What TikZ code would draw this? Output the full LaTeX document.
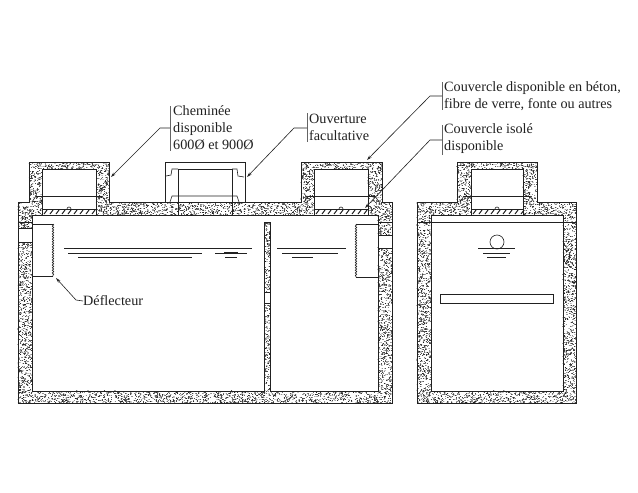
\documentclass[tikz,border=0pt]{standalone}
\usepackage{fontspec}
\setmainfont{Liberation Serif}
\usetikzlibrary{arrows.meta,decorations.pathmorphing}
\definecolor{ink}{gray}{0.13}
\tikzset{
  wall/.style={draw=ink,line width=0.8pt,line join=miter},
  thin line/.style={draw=ink,line width=0.6pt},
  water/.style={draw=ink,line width=0.7pt},
  leader/.style={draw=ink,line width=0.6pt},
  leaderarrow/.style={leader,-{Stealth[length=5pt,width=3pt]}},
  bracket/.style={draw=ink!70,line width=0.9pt},
  label/.style={font=\fontsize{14.2}{17}\selectfont,text=ink,align=left,anchor=west,inner sep=0pt},
  wavy/.style={draw=ink,line width=0.7pt,decorate,decoration={snake,amplitude=0.7pt,segment length=2.6pt}},
  dotset/.style={color=ink,line cap=round}
}
\newcommand{\dotpass}[6]{% x1 y1 x2 y2 density width
  \begin{scope}[dotset,line width=#6pt]
  \pgfmathtruncatemacro{\nn}{abs((#3-#1)*(#4-#2))*#5+1}%
  \foreach \i in {1,...,\nn}{%
    \pgfmathsetmacro{\xx}{#1+rnd*(#3-#1)}%
    \pgfmathsetmacro{\yy}{#2+rnd*(#4-#2)}%
    \pgfmathsetmacro{\xb}{\xx+0.05}%
    \pgfpathmoveto{\pgfpointxy{\xx}{\yy}}%
    \pgfpathlineto{\pgfpointxy{\xb}{\yy}}%
    \pgfusepath{stroke}%
  }%
  \end{scope}%
}
\newcommand{\conc}[4]{%
  \dotpass{#1}{#2}{#3}{#4}{0.22}{0.7}%
  \dotpass{#1}{#2}{#3}{#4}{0.12}{1.2}%
}
\newcommand{\chim}[4]{% outer left, inner left, inner right, outer right
  \conc{#1}{162.5}{#4}{169}\conc{#1}{169}{#2}{202}\conc{#3}{169}{#4}{202}%
  \draw[wall] (#2,215)--(#2,169)--(#3,169)--(#3,215);
  \draw[thin line] (#1+7,196)--(#4-7,196);
  \draw[thin line] (#1+3,202)--(#1+7,196) (#4-3,202)--(#4-7,196);
  \fill[white] (#2,209) rectangle (#3,215);
  \draw[draw=ink,line width=0.9pt] (#2,209) rectangle (#3,215);
  \foreach \h in {2,8,...,50}{\draw[ink,line width=1pt] (#2+\h,214)--(#2+\h+3,210);}
  \draw[thin line] ({(#2+#3)/2-2},209) arc[start angle=180,end angle=0,radius=2pt];
}
\begin{document}
\begin{tikzpicture}[x=1pt,y=-1pt]
\useasboundingbox (0,0) rectangle (638,493);
\fill[white] (0,0) rectangle (638,493);
\pgfmathsetseed{4242}
% ---- main tank concrete
\conc{18}{202}{42}{215}
\conc{96}{202}{314}{215}
\conc{368}{202}{392}{215}
\conc{18}{215}{32}{391}
\conc{378}{215}{392}{391}
\conc{18}{391}{392}{403}
\conc{264.5}{222}{270}{391}
\chim{29}{42}{96}{109}
\chim{301}{314}{368}{382}
\draw[wall] (18,202)--(29,202)--(29,162)--(109,162)--(109,202)--(301,202)--(301,162)--(382,162)--(382,202)--(392,202)--(392,403)--(18,403)--cycle;
\draw[wall] (42,215)--(32,215)--(32,391)--(264,391)--(264,222)--(270,222)--(270,391)--(378,391)--(378,215)--(368,215);
\draw[wall] (96,215)--(314,215);
% wall openings
\fill[white] (18.5,228) rectangle (31.5,242);
\draw[thin line] (18,228)--(32,228) (18,242)--(32,242) (18,222)--(32,222);
\fill[white] (378.5,235) rectangle (391.5,248);
\draw[thin line] (378,235)--(392,235) (378,248)--(392,248) (378,222)--(392,222);
\fill[white] (264.5,292) rectangle (269.5,303);
\draw[thin line] (264,292)--(270,292) (264,303)--(270,303);
% optional opening
\fill[white] (165,162) rectangle (245,202);
\draw[wall] (165,202)--(165,162)--(245,162)--(245,202);
\draw[thin line] (165,202)--(245,202);
\draw[thin line] (178,215)--(178,169)--(232,169)--(232,215);
\draw[thin line] (166,176)--(171,175)--(172,169)--(178,169);
\draw[thin line] (232,169)--(237,169)--(238,176)--(244,177);
\draw[thin line] (170,202)--(172,196)--(237,196)--(239,202);
% deflectors
\draw[thin line] (32,224)--(53,224) (32,276)--(53,276);
\draw[wavy] (53,224)--(53,276);
\draw[thin line] (378,224)--(356,224) (378,277)--(356,277);
\draw[wavy] (356,224)--(356,277);
% water lines
\draw[water] (64,248)--(252,248) (68,253)--(202,253) (78,257)--(192,257);
\draw[water] (215,253)--(247,253) (225,257)--(237,257);
\draw[ink,line width=1.4pt] (224,253)--(238,253);
\draw[water] (277,248)--(346,248) (282,253)--(338,253) (292,257)--(313,257);
% ---- side view
\conc{417}{202.5}{471}{215}
\conc{523}{202.5}{576}{215}
\conc{417}{215}{431}{391}
\conc{563}{215}{576}{391}
\conc{417}{391}{576}{403}
\chim{457}{471}{523}{537}
\draw[wall] (417,202)--(457,202)--(457,162)--(537,162)--(537,202)--(576,202)--(576,403)--(417,403)--cycle;
\draw[wall] (471,215)--(431,215)--(431,391)--(563,391)--(563,215)--(523,215);
\draw[thin line] (417,222)--(576,222);
\node[circle,draw=ink,line width=0.6pt,minimum size=14pt,inner sep=0pt] (ball) at (497,242) {};
\draw[water] (478,248)--(515,248) (483,253)--(510,253) (487,257)--(506,257);
\node[draw=ink,line width=0.9pt,minimum width=113pt,minimum height=9pt,inner sep=0pt] (bar) at (496.5,298.5) {};
% ---- labels
\node[label] (chem) at (173,128) {Cheminée\\disponible\\600Ø et 900Ø};
\node[label] (ouv) at (309,127) {Ouverture\\facultative};
\node[label] (couv) at (444,96.5) {Couvercle disponible en béton,\\fibre de verre, fonte ou autres};
\node[label] (iso) at (444,138.5) {Couvercle isolé\\disponible};
\node[label] (defl) at (83,301) {Déflecteur};
% ---- leaders
\coordinate (bc1) at (170,106); \coordinate (bc2) at (170,151); \coordinate (bc) at (170,128);
\coordinate (kc) at (160,128); \coordinate (tc) at (111,177);
\draw[bracket] (bc1)--(bc);\draw[bracket] (bc)--(bc2);
\draw[leaderarrow] (bc)--(kc)--(tc);
\coordinate (bo1) at (307,113); \coordinate (bo2) at (307,142); \coordinate (bo) at (307,128);
\coordinate (ko) at (294,128); \coordinate (to) at (247,177);
\draw[bracket] (bo1)--(bo2);
\draw[leaderarrow] (bo)--(ko)--(to);
\coordinate (bk1) at (442,82); \coordinate (bk2) at (442,110); \coordinate (bk) at (442,96);
\coordinate (kk) at (430,96); \coordinate (tk) at (367,160);
\draw[bracket] (bk1)--(bk2);
\draw[leaderarrow] (bk)--(kk)--(tk);
\coordinate (bi1) at (442,125); \coordinate (bi2) at (442,155); \coordinate (bi) at (442,140);
\coordinate (ki) at (430,140); \coordinate (ti) at (365,208);
\draw[bracket] (bi1)--(bi2);
\draw[leaderarrow] (bi)--(ki)--(ti);
\coordinate (kd) at (76,300); \coordinate (td) at (56,278);
\draw[leaderarrow] (defl.west)--(kd)--(td);
\end{tikzpicture}
\end{document}
